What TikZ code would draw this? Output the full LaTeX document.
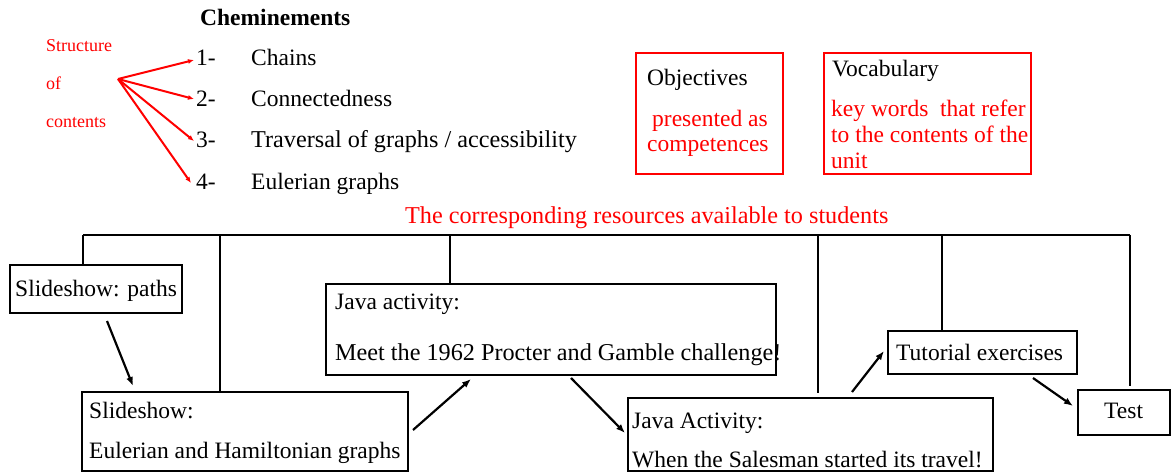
\documentclass[tikz,border=0pt]{standalone}
\usepackage{fontspec}
\setmainfont{Liberation Serif}
\usetikzlibrary{arrows.meta}
\definecolor{rd}{RGB}{255,0,0}
\begin{document}
\begin{tikzpicture}[x=1pt,y=-1pt,
  txt/.style={anchor=base west, inner sep=0pt, font=\fontsize{23.5}{28}\selectfont},
  wtxt/.style={txt, font=\fontsize{24.2}{28}\selectfont},
  rtxt/.style={txt, text=rd},
  btxt/.style={txt, font=\fontsize{23.5}{28}\selectfont\bfseries},
  small/.style={anchor=base west, inner sep=0pt, font=\fontsize{18}{22}\selectfont, text=rd},
  box/.style={draw, line width=2.4pt, inner sep=0pt},
  rbox/.style={draw=rd, line width=2.6pt, inner sep=0pt},
  tree/.style={line width=2.4pt},
  arr/.style={line width=2.2pt, -{Latex[length=9pt,width=7pt]}},
  rarr/.style={draw=rd, line width=2pt, -{Latex[length=6pt,width=5pt]}}]
\useasboundingbox (0,0) rectangle (1173,473);

% ---- top left: structure of contents
\node[btxt] (chem) at (200,26) {Cheminements};
\node[small] (s1) at (46,52) {Structure};
\node[small] (s2) at (46,90) {of};
\node[small] (s3) at (46,128) {contents};
\coordinate (src) at (118,79);
\node[txt] (n1) at (196,66) {1-};
\node[txt] (n2) at (196,107) {2-};
\node[txt] (n3) at (196,148) {3-};
\node[txt] (n4) at (196,190) {4-};
\node[txt] (i1) at (251,66) {Chains};
\node[txt] (i2) at (251,107) {Connectedness};
\node[wtxt] (i3) at (251,148) {Traversal of graphs / accessibility};
\node[txt] (i4) at (251,190) {Eulerian graphs};
\coordinate (t1) at (194,60);
\coordinate (t2) at (194,99);
\coordinate (t3) at (194,141);
\coordinate (t4) at (191,183);
\draw[rarr] (src) -- (t1);
\draw[rarr] (src) -- (t2);
\draw[rarr] (src) -- (t3);
\draw[rarr] (src) -- (t4);

% ---- objectives / vocabulary
\node[rbox, minimum width=147pt, minimum height=121pt] (obj) at (709.5,113.5) {};
\node[txt] (objt) at (647,86) {Objectives};
\node[rtxt] (obj1) at (652,127) {presented as};
\node[rtxt] (obj2) at (647,152) {competences};

\node[rbox, minimum width=207pt, minimum height=121pt] (voc) at (927.5,113.5) {};
\node[txt] (voct) at (832,77) {Vocabulary};
\node[rtxt] (voc1) at (831,117) {key words\ \ that refer};
\node[rtxt] (voc2) at (831,143) {to the contents of the};
\node[rtxt] (voc3) at (831,169) {unit};

% ---- resources
\node[wtxt, text=rd] (res) at (405,224) {The corresponding resources available to students};

\node[box, minimum width=172pt, minimum height=48pt] (p1) at (96,289) {};
\node[txt] (p1t) at (15,296) {Slideshow: paths};

\node[box, minimum width=326pt, minimum height=79pt] (eu) at (245,431.5) {};
\node[txt] (eut1) at (89,418) {Slideshow:};
\node[txt] (eut2) at (89,458) {Eulerian and Hamiltonian graphs};

\node[box, minimum width=450pt, minimum height=91pt] (j1) at (551,329.5) {};
\node[txt] (j1t1) at (335,309) {Java activity:};
\node[wtxt] (j1t2) at (335,360) {Meet the 1962 Procter and Gamble challenge!};

\node[box, minimum width=365pt, minimum height=73pt] (j2) at (810.5,434.5) {};
\node[txt] (j2t1) at (632,428) {Java Activity:};
\node[txt] (j2t2) at (632,467) {When the Salesman started its travel!};

\node[box, minimum width=189pt, minimum height=43pt] (tu) at (982.5,352.5) {};
\node[txt] (tut) at (896,360) {Tutorial exercises};

\node[box, minimum width=92pt, minimum height=45pt] (te) at (1124,412.5) {};
\node[txt] (tet) at (1104,418) {Test};

% ---- tree
\coordinate (b1) at (83,235);
\coordinate (b2) at (220,235);
\coordinate (b3) at (450,235);
\coordinate (b4) at (818,235);
\coordinate (b5) at (942,235);
\coordinate (b6) at (1130,235);
\draw[tree] (b1) -- (b6);
\draw[tree] (b1) -- (b1 |- p1.north);
\draw[tree] (b2) -- (b2 |- eu.north);
\draw[tree] (b3) -- (b3 |- j1.north);
\draw[tree, shorten >=4pt] (b4) -- (b4 |- j2.north);
\draw[tree] (b5) -- (b5 |- tu.north);
\draw[tree, shorten >=3pt] (b6) -- (b6 |- te.north);

% ---- arrows
\coordinate (a1s) at (107,321); \coordinate (a1e) at (133,386);
\coordinate (a2s) at (413,430); \coordinate (a2e) at (471,379);
\coordinate (a3s) at (571,378); \coordinate (a3e) at (625,433);
\coordinate (a4s) at (852,392); \coordinate (a4e) at (884,351);
\coordinate (a5s) at (1033,378); \coordinate (a5e) at (1073,406);
\draw[arr] (a1s) -- (a1e);
\draw[arr] (a2s) -- (a2e);
\draw[arr] (a3s) -- (a3e);
\draw[arr] (a4s) -- (a4e);
\draw[arr] (a5s) -- (a5e);
\end{tikzpicture}
\end{document}
